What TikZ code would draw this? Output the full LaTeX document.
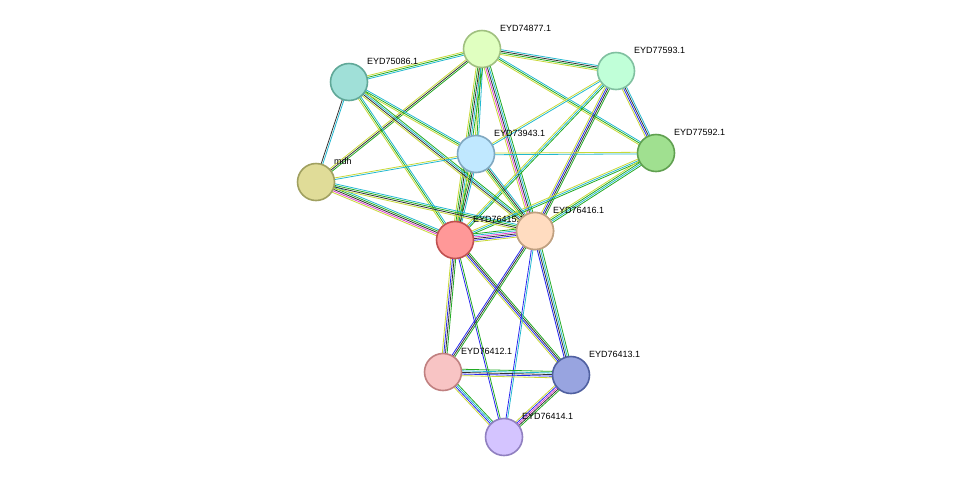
\documentclass[tikz,border=0pt]{standalone}
\usepackage{fontspec}
\setmainfont{Liberation Sans}
\usetikzlibrary{calc,positioning,backgrounds}

\definecolor{tm}{HTML}{C8D838}
\definecolor{co}{HTML}{333333}
\definecolor{db}{HTML}{22B8D0}
\definecolor{nb}{HTML}{22AA22}
\definecolor{ex}{HTML}{E040D0}
\definecolor{oc}{HTML}{2828F0}

\tikzset{
  prot/.style={circle, minimum size=37pt, inner sep=0pt, line width=1.6pt},
  lbl/.style={anchor=west, font=\fontsize{9}{10}\selectfont, inner sep=0pt},
  lnk/.style={line width=0.8pt}
}

% edge of several coloured parallel lines: from, to, count, colours
\newcommand\stredge[4]{%
  \foreach \c [count=\i] in {#4} {%
    \pgfmathsetmacro\d{(\i-(#3+1)/2)*1.6}
    \draw[lnk,\c] ($(#1.center)!\d pt!90:(#2.center)$) -- ($(#2.center)!\d pt!-90:(#1.center)$);
  }}

\begin{document}
\begin{tikzpicture}[x=1pt,y=-1pt]
\useasboundingbox (0,0) rectangle (976,483);
% proteins
\node[prot, fill={rgb,255:red,224;green,255;blue,192}, draw={rgb,255:red,160;green,192;blue,128}] (a) at (482,49) {};
\node[prot, fill={rgb,255:red,192;green,255;blue,216}, draw={rgb,255:red,128;green,192;blue,160}] (b) at (616,71) {};
\node[prot, fill={rgb,255:red,160;green,224;blue,216}, draw={rgb,255:red,96;green,168;blue,152}] (d) at (349,82) {};
\node[prot, fill={rgb,255:red,160;green,224;blue,144}, draw={rgb,255:red,96;green,160;blue,80}] (c) at (656,153) {};
\node[prot, fill={rgb,255:red,192;green,232;blue,255}, draw={rgb,255:red,128;green,168;blue,192}] (e) at (476,154) {};
\node[prot, fill={rgb,255:red,224;green,220;blue,152}, draw={rgb,255:red,160;green,160;blue,96}] (m) at (316,182) {};
\node[prot, fill={rgb,255:red,255;green,152;blue,152}, draw={rgb,255:red,192;green,80;blue,80}] (r) at (455,240) {};
\node[prot, fill={rgb,255:red,255;green,220;blue,192}, draw={rgb,255:red,192;green,160;blue,128}] (p) at (535,231) {};
\node[prot, fill={rgb,255:red,248;green,196;blue,196}, draw={rgb,255:red,192;green,128;blue,128}] (k) at (443,372) {};
\node[prot, fill={rgb,255:red,152;green,164;blue,224}, draw={rgb,255:red,80;green,96;blue,160}] (l) at (571,375) {};
\node[prot, fill={rgb,255:red,212;green,196;blue,255}, draw={rgb,255:red,144;green,128;blue,192}] (n) at (504,437) {};

% labels
\node[lbl] (al) at ($(a)+(18,-21)$) {EYD74877.1};
\node[lbl] (bl) at ($(b)+(18,-21)$) {EYD77593.1};
\node[lbl] (dl) at ($(d)+(18,-21)$) {EYD75086.1};
\node[lbl] (cl) at ($(c)+(18,-21)$) {EYD77592.1};
\node[lbl] (el) at ($(e)+(18,-21)$) {EYD73943.1};
\node[lbl] (ml) at ($(m)+(18,-21)$) {mdh};
\node[lbl] (rl) at ($(r)+(18,-21)$) {EYD76415.1};
\node[prot, fill={rgb,255:red,255;green,220;blue,192}, draw={rgb,255:red,192;green,160;blue,128}] at (p) {};
\node[lbl] (pl) at ($(p)+(18,-21)$) {EYD76416.1};
\node[lbl] (kl) at ($(k)+(18,-21)$) {EYD76412.1};
\node[lbl] (ll) at ($(l)+(18,-21)$) {EYD76413.1};
\node[lbl] (nl) at ($(n)+(18,-21)$) {EYD76414.1};

% links
\begin{scope}[on background layer]
\stredge{a}{b}{4}{tm,nb,co,db}
\stredge{a}{c}{3}{tm,nb,db}
\stredge{a}{d}{3}{tm,nb,db}
\stredge{a}{m}{3}{tm,co,nb}
\stredge{a}{e}{3}{tm,nb,db}
\stredge{a}{r}{5}{tm,nb,co,db,nb}
\stredge{a}{p}{5}{tm,ex,co,db,nb}
\stredge{b}{c}{4}{tm,oc,co,db}
\stredge{b}{e}{2}{tm,db}
\stredge{b}{r}{3}{tm,db,nb}
\stredge{b}{p}{4}{tm,oc,co,nb}
\stredge{d}{m}{2}{co,db}
\stredge{d}{m}{0}{}
\stredge{d}{r}{3}{tm,nb,db}
\stredge{d}{p}{4}{tm,co,db,nb}
\stredge{d}{e}{3}{tm,nb,db}
\stredge{c}{e}{2}{tm,db}
\stredge{c}{r}{3}{tm,db,nb}
\stredge{c}{p}{4}{tm,nb,db,nb}
\stredge{e}{m}{2}{tm,db}
\stredge{e}{r}{4}{tm,nb,co,db}
\stredge{e}{p}{4}{tm,nb,co,db}
\stredge{m}{r}{5}{tm,ex,co,nb,db}
\stredge{m}{p}{4}{tm,co,nb,db}
\stredge{r}{p}{6}{tm,oc,co,ex,db,nb}
\stredge{r}{k}{4}{tm,oc,co,nb}
\stredge{r}{l}{4}{tm,oc,co,nb}
\stredge{r}{n}{2}{oc,nb}
\stredge{p}{k}{3}{oc,co,nb}
\stredge{p}{l}{4}{oc,co,db,nb}
\stredge{p}{n}{2}{oc,db}
\stredge{k}{l}{5}{tm,oc,co,db,nb}
\stredge{k}{n}{4}{tm,oc,db,nb}
\stredge{l}{n}{5}{tm,oc,ex,co,nb}
\end{scope}
\end{tikzpicture}
\end{document}
